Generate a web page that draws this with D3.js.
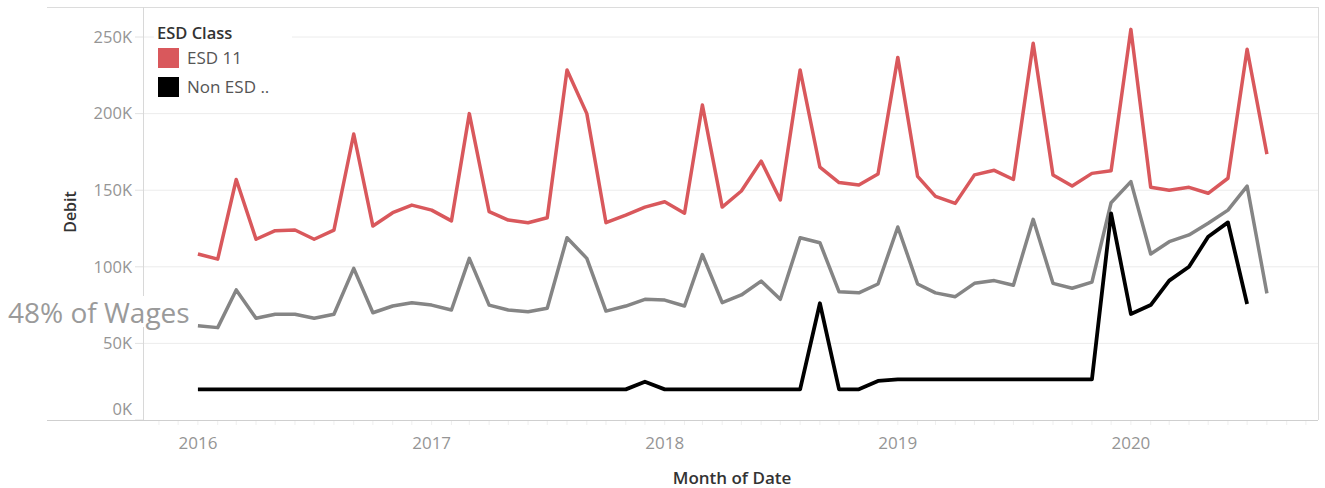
<!DOCTYPE html>
<html>
<head>
<meta charset="utf-8">
<script src="https://cdn.jsdelivr.net/npm/d3@7"></script>
<style>
    body { margin: 0; background: #fff; }
    svg { display: block; font-family: "Open Sans", "Noto Sans", sans-serif; }
</style>
</head>
<body>
<svg id="chart" width="1325" height="488"></svg>
<script>
"use strict";

// monthly debit, in thousands, Jan 2016 onwards
const firstMonth = new Date(2016, 0, 1);

const esd11 = [
    108.4, 105, 157, 118, 123.6, 124, 118, 124, 186.7, 126.6, 135.3, 140.3,
    137, 130, 200, 136, 130.5, 128.8, 132, 228.5, 200, 128.8, 133.8, 139,
    142.5, 135, 205.6, 139, 149.5, 169, 143.6, 228.5, 165, 155, 153.4, 160.6,
    236.7, 159, 146, 141.4, 160, 163, 157, 246, 160, 152.7, 161, 162.7,
    255, 151.9, 150, 151.9, 148, 157.8, 242, 173.6
];

const nonEsd = [
    20, 20, 20, 20, 20, 20, 20, 20, 20, 20, 20, 20,
    20, 20, 20, 20, 20, 20, 20, 20, 20, 20, 20, 25,
    20, 20, 20, 20, 20, 20, 20, 20, 76.2, 20, 20, 25.5,
    26.5, 26.5, 26.5, 26.5, 26.5, 26.5, 26.5, 26.5, 26.5, 26.5, 26.5, 134.9,
    69.2, 75, 91, 100, 119.6, 129, 75.7
];

const wages48 = [
    61.6, 60.3, 84.9, 66.4, 69, 69, 66.4, 69, 99, 70, 74.4, 76.6,
    75, 71.8, 105.5, 75, 71.8, 70.7, 72.9, 119, 105.5, 71.1, 74.4, 78.8,
    78.3, 74.4, 108, 76.6, 81.6, 90.7, 78.8, 119, 115.7, 83.7, 83, 88.8,
    126, 88.8, 83, 80.5, 89.2, 91, 88, 131, 89.2, 86, 90, 141.8,
    155.6, 108.4, 116.4, 120.8, 128.4, 137, 152.7, 82.7
];

const yTicks = [0, 50, 100, 150, 200, 250];
const yearTicks = [2016, 2017, 2018, 2019, 2020];
const legendItems = [
    {label: "ESD 11", color: "#d9585c"},
    {label: "Non ESD ..", color: "#000000"}
];

const months = esd11.map((d, i) => d3.timeMonth.offset(firstMonth, i));

const svg = d3.select("#chart");
const plotLeft = 143, plotRight = 1318, plotTop = 7, plotBottom = 420;

const x = d3.scaleTime()
    .domain([new Date(2015, 9, 7), new Date(2020, 9, 20)])
    .range([plotLeft, plotRight]);
const y = d3.scaleLinear()
    .domain([0, 269.6])
    .range([plotBottom, plotTop]);

// gridlines
svg.append("g")
    .selectAll("line")
    .data(yTicks.filter(d => d > 0))
    .join("line")
    .attr("x1", plotLeft).attr("x2", plotRight)
    .attr("y1", d => y(d)).attr("y2", d => y(d))
    .attr("stroke", "#ececec").attr("stroke-width", 1);

// y tick marks
svg.append("g")
    .selectAll("line")
    .data(yTicks)
    .join("line")
    .attr("x1", plotLeft - 8).attr("x2", plotLeft)
    .attr("y1", d => y(d)).attr("y2", d => y(d))
    .attr("stroke", "#e2e2e2");

// frame
svg.append("line").attr("x1", 47).attr("x2", plotRight).attr("y1", plotTop + 0.5).attr("y2", plotTop + 0.5)
    .attr("stroke", "#dcdcdc");
svg.append("line").attr("x1", 47).attr("x2", plotRight).attr("y1", plotBottom + 0.5).attr("y2", plotBottom + 0.5)
    .attr("stroke", "#cfcfcf");
svg.append("line").attr("x1", plotLeft + 0.5).attr("x2", plotLeft + 0.5).attr("y1", plotTop).attr("y2", plotBottom)
    .attr("stroke", "#d8d8d8");
svg.append("line").attr("x1", plotRight + 0.5).attr("x2", plotRight + 0.5).attr("y1", plotTop).attr("y2", plotBottom)
    .attr("stroke", "#dcdcdc");

// x axis: faint monthly ticks, year labels
const xAxis = svg.append("g").attr("transform", `translate(0,${plotBottom})`);
xAxis.selectAll("line")
    .data(d3.timeMonth.range(x.domain()[0], x.domain()[1]))
    .join("line")
    .attr("x1", d => x(d)).attr("x2", d => x(d))
    .attr("y1", 1).attr("y2", 5)
    .attr("stroke", "#efefef");
xAxis.selectAll("text")
    .data(yearTicks)
    .join("text")
    .attr("x", d => x(new Date(d, 0, 1)))
    .attr("y", 29)
    .attr("text-anchor", "middle")
    .attr("fill", "#959595")
    .attr("font-size", 17)
    .text(d => d);

// y labels
svg.append("g")
    .selectAll("text")
    .data(yTicks)
    .join("text")
    .attr("x", 132)
    .attr("y", d => (d === 0 ? y(d) - 11 : y(d)))
    .attr("dy", "0.35em")
    .attr("text-anchor", "end")
    .attr("fill", "#959595")
    .attr("font-size", 16.5)
    .text(d => d + "K");

// axis titles
svg.append("text")
    .attr("transform", "translate(76,212) rotate(-90)")
    .attr("text-anchor", "middle")
    .attr("fill", "#333")
    .attr("font-size", 16)
    .attr("font-weight", 600)
    .text("Debit");
svg.append("text")
    .attr("x", 732).attr("y", 484)
    .attr("text-anchor", "middle")
    .attr("fill", "#333")
    .attr("font-size", 17)
    .attr("font-weight", 600)
    .text("Month of Date");

// lines
const line = d3.line()
    .x((d, i) => x(months[i]))
    .y(d => y(d));

svg.append("path").datum(wages48)
    .attr("d", line).attr("fill", "none")
    .attr("stroke", "#858585").attr("stroke-width", 3.5).attr("stroke-linejoin", "round");
svg.append("path").datum(esd11)
    .attr("d", line).attr("fill", "none")
    .attr("stroke", legendItems[0].color).attr("stroke-width", 3.5).attr("stroke-linejoin", "round");
svg.append("path").datum(nonEsd)
    .attr("d", line).attr("fill", "none")
    .attr("stroke", legendItems[1].color).attr("stroke-width", 3.8).attr("stroke-linejoin", "round");

// annotation
svg.append("rect").attr("x", 4).attr("y", 296).attr("width", 190).attr("height", 31).attr("fill", "#fff");
svg.append("text")
    .attr("x", 8).attr("y", 323)
    .attr("fill", "#9a9a9a")
    .attr("font-size", 28)
    .text("48% of Wages");

// legend
const legend = svg.append("g").attr("transform", "translate(157,0)");
legend.append("rect").attr("x", -3).attr("y", 20).attr("width", 138).attr("height", 82).attr("fill", "#fff");
legend.append("text")
    .attr("x", 0).attr("y", 39)
    .attr("fill", "#333")
    .attr("font-size", 16.5)
    .attr("font-weight", 600)
    .text("ESD Class");
const items = legend.selectAll("g.item")
    .data(legendItems)
    .join("g")
    .attr("class", "item")
    .attr("transform", (d, i) => `translate(1,${48 + i * 29})`);
items.append("rect").attr("width", 21).attr("height", 20).attr("fill", d => d.color);
items.append("text")
    .attr("x", 29).attr("y", 16)
    .attr("fill", "#555")
    .attr("font-size", 17)
    .text(d => d.label);
</script>
</body>
</html>
